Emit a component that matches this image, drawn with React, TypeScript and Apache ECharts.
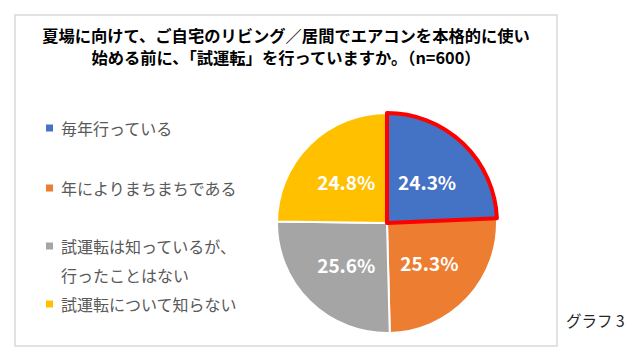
import React, { useEffect, useRef } from "react";
import * as echarts from "echarts";

const titleText = "夏場に向けて、ご自宅のリビング／居間でエアコンを本格的に使い\n始める前に、「試運転」を行っていますか。（n=600）";
const categories = ["毎年行っている", "年によりまちまちである", "試運転は知っているが、\n行ったことはない", "試運転について知らない"];
const values = [24.3, 25.3, 25.6, 24.8];
const colors = ["#4472C4", "#ED7D31", "#A5A5A5", "#FFC000"];
const noteText = "グラフ 3";

const FONT = "'Noto Sans CJK JP', 'Noto Sans', sans-serif";

export default function App() {
  const ref = useRef<HTMLDivElement>(null);
  useEffect(() => {
    if (!ref.current) return;
    const chart = echarts.init(ref.current, undefined, { renderer: "svg" });

    // draw order: blue last so its red outline sits on top
    const order = [1, 2, 3, 0];
    const firstShare = values[0] / values.reduce((a, b) => a + b, 0);
    const startAngle = 90 - firstShare * 360;

    const pieData = order.map((i) => ({
      name: categories[i],
      value: values[i],
      itemStyle:
        i === 0
          ? { color: colors[i], borderColor: "#FF0000", borderWidth: 4 }
          : { color: colors[i], borderColor: "#FFFFFF", borderWidth: 2 },
    }));

    const legendCenters = [128, 188, 246, 304];
    const LH = 29;
    const legends = categories.map((name, i) => {
      const multi = name.includes("\n");
      const top = multi ? legendCenters[i] - (LH * 3) / 2 : legendCenters[i] - LH / 2;
      return {
        orient: "vertical",
        left: 46,
        top,
        padding: 0,
        icon: "rect",
        itemWidth: 7,
        itemHeight: 7,
        itemStyle: { color: colors[i], borderWidth: 0 },
        selectedMode: false,
        data: [name],
        formatter: (n: string) => (n.includes("\n") ? "\n" + n : n),
        textStyle: {
          fontFamily: FONT,
          fontSize: 16,
          color: "#595959",
          lineHeight: LH,
          padding: [0, 0, 0, 3],
        },
      };
    });

    chart.setOption({
      animation: false,
      color: colors,
      title: [
        {
          text: titleText,
          left: 286,
          top: 24,
          textAlign: "center",
          padding: 0,
          textStyle: {
            fontFamily: FONT,
            fontSize: 16.3,
            fontWeight: "bold",
            color: "#000000",
            lineHeight: 22,
          },
        },
        {
          text: noteText,
          left: 566,
          top: 312,
          padding: 0,
          textStyle: {
            fontFamily: FONT,
            fontSize: 15.5,
            fontWeight: "normal",
            color: "#262626",
          },
        },
      ],
      legend: legends,
      graphic: [
        {
          type: "rect",
          shape: { x: 15, y: 15, width: 542, height: 331 },
          style: { fill: "none", stroke: "#D9D9D9", lineWidth: 1.5 },
          silent: true,
        },
      ],
      series: [
        {
          type: "pie",
          center: [387, 223],
          radius: [0, 110],
          startAngle,
          clockwise: true,
          avoidLabelOverlap: false,
          label: {
            show: true,
            position: "inside",
            fontFamily: FONT,
            fontSize: 19,
            fontWeight: "bold",
            color: "#FFFFFF",
            formatter: (p: any) => Number(p.value).toFixed(1) + "%",
          },
          labelLine: { show: false },
          emphasis: { disabled: true },
          data: pieData,
        },
      ],
    });
    return () => chart.dispose();
  }, []);
  return (
    <div
      ref={ref}
      style={{ position: "fixed", left: 0, top: 0, width: 633, height: 355, background: "#FFFFFF" }}
    />
  );
}
